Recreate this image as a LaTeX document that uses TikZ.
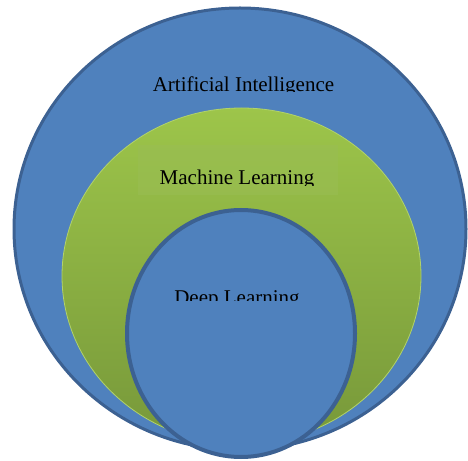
\documentclass[tikz,border=0pt]{standalone}
\usepackage{fontspec}
\setmainfont{Liberation Serif}
\begin{document}
\begin{tikzpicture}[x=1pt,y=1pt,
  bluefill/.style={fill=aiblue,draw=aiedge},
  lbl/.style={anchor=base,inner sep=0pt,font=\fontsize{21}{24}\selectfont,text=black}]
\definecolor{aiblue}{HTML}{4F81BD}
\definecolor{aiedge}{HTML}{3C6192}
\definecolor{mltop}{HTML}{9DC54A}
\definecolor{mlbot}{HTML}{77983A}
\definecolor{mledge}{HTML}{B2D36A}
\definecolor{mlbox}{HTML}{99BD52}
\useasboundingbox (0,0) rectangle (468,460);
% outer: Artificial Intelligence
\path[bluefill,line width=3pt] (240,231) ellipse [x radius=226,y radius=221];
\coordinate (ai) at (243.5,368.5);
% middle: Machine Learning
\shade[top color=mltop,bottom color=mlbot,draw=mledge,line width=0.8pt]
  (241.5,184) ellipse [x radius=179.5,y radius=168];
\fill[mlbox,opacity=0.6] (138,265) rectangle (338,315);
\coordinate (ml) at (237,275);
% inner: Deep Learning
\path[bluefill,line width=4pt] (241,126.5) ellipse [x radius=114,y radius=123.5];
\coordinate (dl) at (237,155);
% clipped labels
\begin{scope}
  \clip (100,368) rectangle (380,400);
  \node[lbl] (tai) at (ai) {Artificial Intelligence};
\end{scope}
\begin{scope}
  \clip (100,274.5) rectangle (380,300);
  \node[lbl] (tml) at (ml) {Machine Learning};
\end{scope}
\begin{scope}
  \clip (100,159) rectangle (380,190);
  \node[lbl] (tdl) at (dl) {Deep Learning};
\end{scope}
\end{tikzpicture}
\end{document}
